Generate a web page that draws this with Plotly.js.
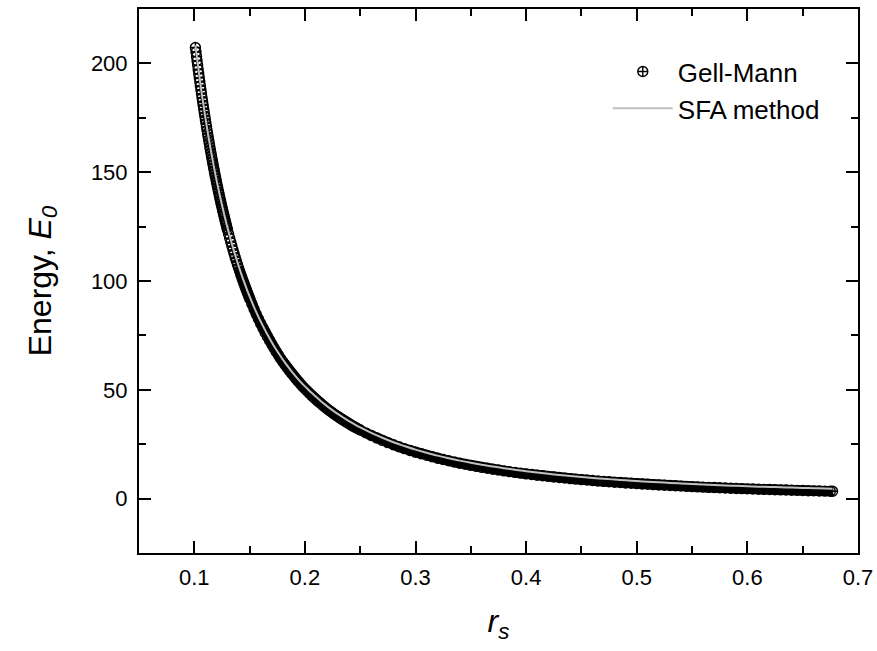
<!DOCTYPE html>
<html>
<head>
<meta charset="utf-8">
<script src="https://cdn.plot.ly/plotly-3.0.1.min.js"></script>
<style>html,body{margin:0;padding:0;background:#fff;}#chart{width:877px;height:651px;}</style>
</head>
<body>
<div id="chart"></div>
<script>
// Gell-Mann points (r_s, E_0)
const gmRs = [0.1010,0.1015,0.1020,0.1025,0.1030,0.1035,0.1040,0.1045,0.1050,0.1055,0.1060,0.1065,0.1070,0.1075,0.1080,0.1085,0.1090,0.1095,0.1100,0.1105,0.1110,0.1115,0.1120,0.1125,0.1130,0.1135,0.1140,0.1145,0.1150,0.1155,0.1160,0.1165,0.1170,0.1175,0.1180,0.1185,0.1190,0.1195,0.1200,0.1205,0.1210,0.1215,0.1220,0.1225,0.1230,0.1235,0.1240,0.1245,0.1250,0.1255,0.1260,0.1265,0.1270,0.1275,0.1280,0.1285,0.1290,0.1295,0.1300,
0.131,0.132,0.133,0.134,0.135,0.136,0.137,0.138,0.139,0.140,0.141,0.142,0.143,0.144,0.145,0.146,0.147,0.148,0.149,0.150,
0.152,0.154,0.156,0.158,0.160,0.162,0.164,0.166,0.168,0.170,0.172,0.174,0.176,0.178,0.180,0.182,0.184,0.186,0.188,0.190,0.192,0.194,0.196,0.198,0.200,0.202,0.204,0.206,0.208,0.210,0.212,0.214,0.216,0.218,0.220,0.222,0.224,0.226,0.228,0.230,0.232,0.234,0.236,0.238,0.240,0.242,0.244,0.246,0.248,0.250,
0.255,0.260,0.265,0.270,0.275,0.280,0.285,0.290,0.295,0.300,0.305,0.310,0.315,0.320,0.325,0.330,0.335,0.340,0.345,0.350,0.355,0.360,0.365,0.370,0.375,0.380,0.385,0.390,0.395,0.400,0.405,0.410,0.415,0.420,0.425,0.430,0.435,0.440,0.445,0.450,0.455,0.460,0.465,0.470,0.475,0.480,0.485,0.490,0.495,0.500,0.505,0.510,0.515,0.520,0.525,0.530,0.535,0.540,0.545,0.550,0.555,0.560,0.565,0.570,0.575,0.580,0.585,0.590,0.595,0.600,0.605,0.610,0.615,0.620,0.625,0.630,0.635,0.640,0.645,0.650,0.655,0.660,0.665,0.670,0.675,0.677];
const gmEnergy = [207.34,205.26,203.20,201.18,199.19,197.22,195.28,193.38,191.50,189.64,187.81,186.01,184.24,182.48,180.76,179.06,177.38,175.72,174.09,172.48,170.89,169.32,167.77,166.25,164.74,163.25,161.79,160.34,158.91,157.51,156.11,154.74,153.39,152.05,150.73,149.43,148.14,146.87,145.61,144.37,143.15,141.94,140.75,139.57,138.41,137.26,136.12,135.00,133.89,132.79,131.71,130.64,129.59,128.54,127.51,126.49,125.48,124.49,123.50,
121.57,119.68,117.83,116.02,114.26,112.53,110.84,109.19,107.58,106.00,104.45,102.94,101.45,100.00,98.58,97.19,95.83,94.49,93.19,91.90,
89.42,87.03,84.73,82.52,80.40,78.35,76.38,74.48,72.65,70.88,69.17,67.53,65.94,64.40,62.92,61.49,60.10,58.76,57.46,56.20,54.98,53.80,52.66,51.55,50.48,49.43,48.42,47.44,46.49,45.56,44.66,43.79,42.94,42.11,41.31,40.53,39.77,39.03,38.31,37.61,36.93,36.26,35.62,34.98,34.37,33.77,33.18,32.61,32.06,31.52,
30.22,28.99,27.84,26.75,25.72,24.74,23.82,22.95,22.12,21.33,20.59,19.88,19.20,18.55,17.94,17.36,16.80,16.26,15.75,15.26,14.80,14.35,13.92,13.51,13.12,12.74,12.38,12.03,11.69,11.37,11.06,10.76,10.48,10.20,9.93,9.68,9.43,9.19,8.96,8.73,8.52,8.31,8.11,7.91,7.73,7.54,7.37,7.20,7.03,6.87,6.72,6.57,6.42,6.28,6.14,6.01,5.88,5.75,5.63,5.51,5.39,5.28,5.17,5.07,4.96,4.86,4.77,4.67,4.58,4.49,4.40,4.31,4.23,4.15,4.07,3.99,3.92,3.84,3.77,3.70,3.63,3.57,3.50,3.44,3.38,3.35];

// SFA method curve (r_s, E_0)
const sfaRs = [0.101,0.102,0.103,0.104,0.105,0.106,0.107,0.108,0.109,0.110,0.111,0.112,0.113,0.114,0.115,0.116,0.117,0.118,0.119,0.120,0.122,0.124,0.126,0.128,0.130,0.132,0.134,0.136,0.138,0.140,0.142,0.144,0.146,0.148,0.150,0.154,0.158,0.162,0.166,0.170,0.174,0.178,0.182,0.186,0.190,0.194,0.198,0.202,0.206,0.210,0.214,0.218,0.222,0.226,0.230,0.234,0.238,0.242,0.246,0.250,0.26,0.27,0.28,0.29,0.30,0.31,0.32,0.33,0.34,0.35,0.36,0.37,0.38,0.39,0.40,0.41,0.42,0.43,0.44,0.45,0.46,0.47,0.48,0.49,0.50,0.51,0.52,0.53,0.54,0.55,0.56,0.57,0.58,0.59,0.60,0.61,0.62,0.63,0.64,0.65,0.66,0.67,0.677];
const sfaEnergy = [208.3,204.2,200.2,196.3,192.5,188.8,185.2,181.8,178.4,175.1,171.9,168.8,165.7,162.8,159.9,157.1,154.4,151.7,149.1,146.6,141.8,137.1,132.7,128.5,124.5,120.7,117.0,113.5,110.2,107.0,103.9,101.0,98.2,95.5,92.9,88.0,83.5,79.4,75.5,71.9,68.5,65.4,62.5,59.8,57.2,54.8,52.6,50.6,48.6,46.8,45.0,43.3,41.7,40.2,38.8,37.5,36.2,35.0,33.8,32.7,30.2,27.95,25.9,24.15,22.5,21.1,19.75,18.55,17.45,16.45,15.55,14.7,13.95,13.25,12.55,11.95,11.4,10.9,10.4,9.95,9.5,9.1,8.75,8.4,8.05,7.75,7.5,7.2,6.95,6.7,6.5,6.25,6.05,5.85,5.7,5.5,5.35,5.2,5.05,4.9,4.75,4.65,4.55];

const seriesNames = ['Gell-Mann', 'SFA method'];
const xTitle = '<i>r<sub>s</sub></i>';
const yTitle = 'Energy, <i>E<sub>0</sub></i>';

const FONT = 'Liberation Sans, Arial, Helvetica, sans-serif';

// dense part of the marker band drawn as a solid stroke (where markers overlap fully)
const bandStart = gmRs.findIndex(v => v >= 0.14);
const traces = [
  {
    x: gmRs.slice(bandStart), y: gmEnergy.slice(bandStart),
    type: 'scatter', mode: 'lines', showlegend: false, hoverinfo: 'skip',
    line: {color: '#000', width: 10}
  },
  {
    x: gmRs, y: gmEnergy, name: seriesNames[0],
    type: 'scatter', mode: 'markers',
    marker: {symbol: 'circle-cross-open', size: 10, color: '#000', line: {color: '#000', width: 1.4}}
  },
  {
    x: sfaRs, y: sfaEnergy, name: seriesNames[1],
    type: 'scatter', mode: 'lines',
    line: {color: '#c0c0c0', width: 2, shape: 'spline'}
  }
];

const axisCommon = {
  showline: true, linecolor: '#000', linewidth: 2, mirror: 'allticks',
  ticks: 'inside', ticklen: 12, tickwidth: 2, tickcolor: '#000',
  showgrid: false, zeroline: false,
  tickfont: {family: FONT, size: 22, color: '#000'}
};

const layout = {
  width: 877, height: 651,
  margin: {l: 139, r: 19, t: 9, b: 98},
  paper_bgcolor: '#fff', plot_bgcolor: '#fff',
  font: {family: FONT, color: '#000'},
  showlegend: true,
  legend: {
    x: 0.652, y: 0.928, xanchor: 'left', yanchor: 'top',
    bgcolor: 'rgba(0,0,0,0)', borderwidth: 0,
    font: {family: FONT, size: 26, color: '#000'},
    itemwidth: 60, tracegroupgap: 0
  },
  xaxis: Object.assign({}, axisCommon, {
    range: [0.05, 0.7], tick0: 0, dtick: 0.1, tickformat: '.1f',
    ticklabelstandoff: 4,
    minor: {dtick: 0.05, ticks: 'inside', ticklen: 7, tickwidth: 2, tickcolor: '#000', showgrid: false},
    title: {text: xTitle, font: {family: FONT, size: 32, color: '#000'}, standoff: 20}
  }),
  yaxis: Object.assign({}, axisCommon, {
    range: [-25, 225], tick0: 0, dtick: 50,
    ticklabelstandoff: 5,
    minor: {dtick: 25, ticks: 'inside', ticklen: 7, tickwidth: 2, tickcolor: '#000', showgrid: false},
    title: {text: yTitle, font: {family: FONT, size: 32, color: '#000'}, standoff: 30}
  })
};

Plotly.newPlot('chart', traces, layout, {displayModeBar: false, staticPlot: true});
</script>
</body>
</html>
